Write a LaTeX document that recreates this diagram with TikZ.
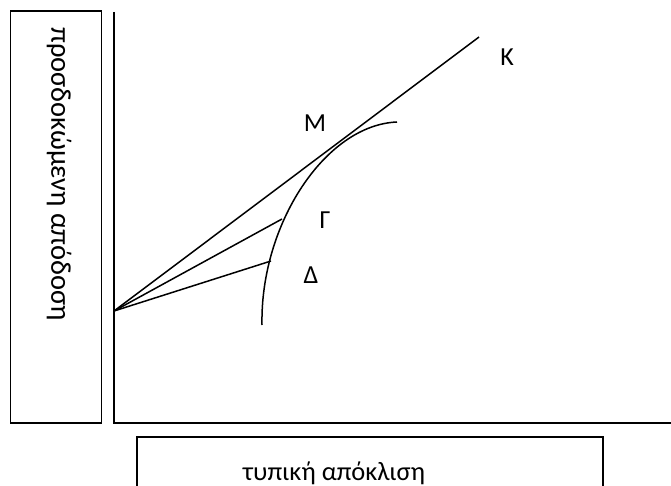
\documentclass[tikz,border=0pt]{standalone}
\usepackage{fontspec}
\setmainfont{Carlito}
\usepackage{tikz}
\usetikzlibrary{positioning}

\tikzset{
  line/.style={line width=1.5pt},
  labelbox/.style={draw, line width=1.5pt, minimum width=#1, inner sep=0pt},
  ptlabel/.style={font=\fontsize{26}{30}\selectfont, inner sep=0pt}
}

\begin{document}
\begin{tikzpicture}[x=1pt, y=-1pt]
\useasboundingbox (0,0) rectangle (671,486);
% axis boxes
\node[labelbox=91pt, minimum height=412pt] (ybox) at (56,217) {};
\node[font=\fontsize{28.5}{34}\selectfont, rotate=-90] (ylabel) at (59,174) {προσδοκώμενη απόδοση};
\node[labelbox=466pt, minimum height=52pt] (xbox) at (370,463) {};
\node[font=\fontsize{26.5}{31}\selectfont] (xlabel) at (334,473) {τυπική απόκλιση};
% axes
\draw[line] (114,12) -- (114,423) -- (671,423);
% points
\coordinate (O) at (114,311);
\coordinate (Kend) at (479,37);
\coordinate (Gend) at (282,219);
\coordinate (Dend) at (271,261);
\draw[line] (O) -- (Kend);
\draw[line] (O) -- (Gend);
\draw[line] (O) -- (Dend);
% efficient frontier
\draw[line] (262,325) .. controls (260,225) and (325,125) .. (397,122);
\node[ptlabel] (K) at (507,57) {Κ};
\node[ptlabel] (M) at (315,123) {Μ};
\node[ptlabel] (G) at (325,220) {Γ};
\node[ptlabel] (D) at (311,275) {Δ};
\end{tikzpicture}
\end{document}
